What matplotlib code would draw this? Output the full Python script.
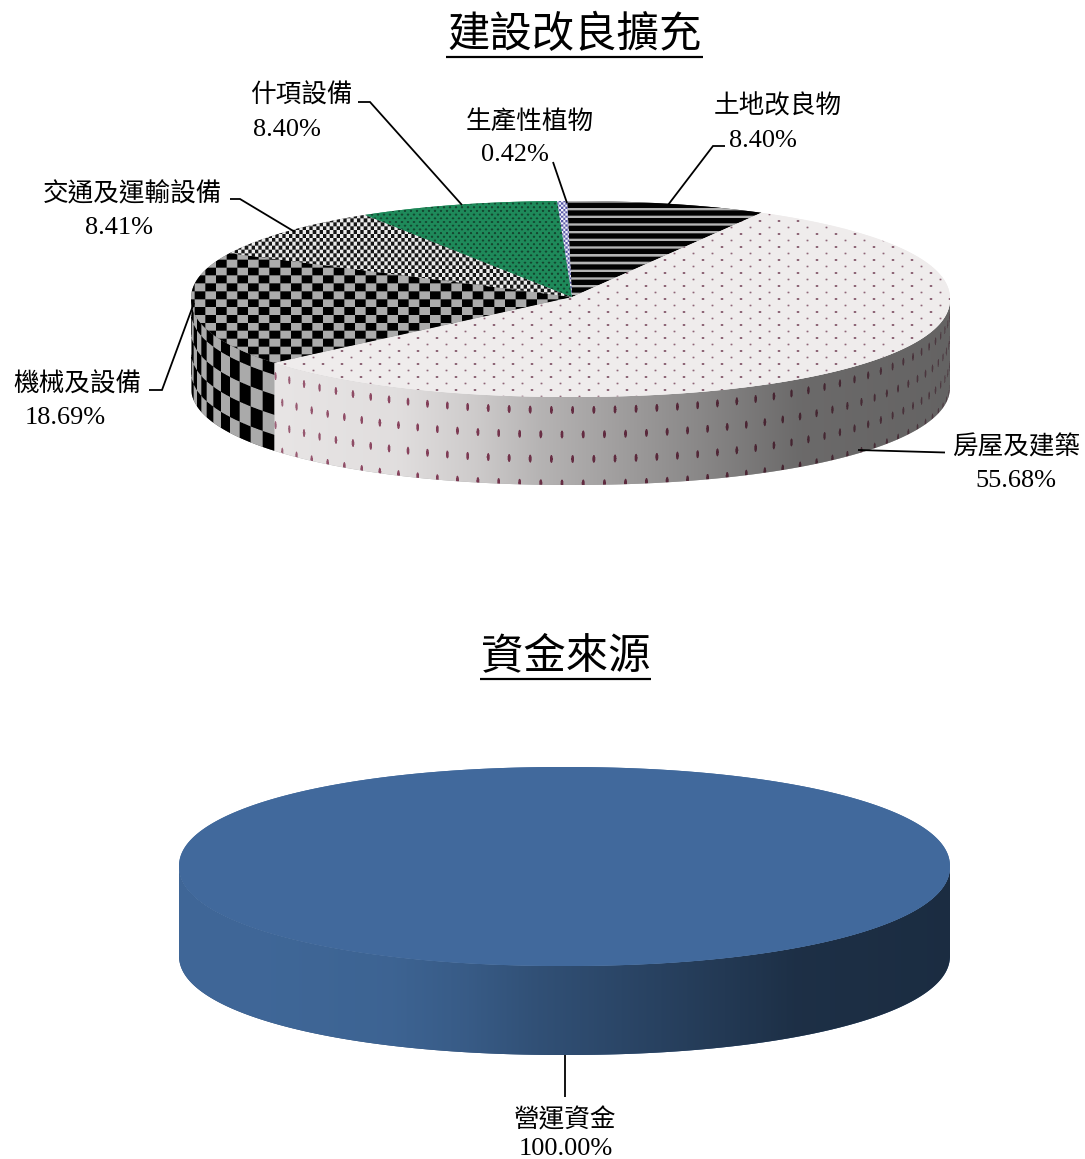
import numpy as np
import matplotlib
matplotlib.use("Agg")
import matplotlib.pyplot as plt
from matplotlib.patches import Polygon

# ---------- data ----------
title_top = "建設改良擴充"
categories_top = ["土地改良物", "房屋及建築", "機械及設備", "交通及運輸設備", "什項設備", "生產性植物"]
shares_top = [8.40, 55.68, 18.69, 8.41, 8.40, 0.42]
title_bottom = "資金來源"
categories_bottom = ["營運資金"]
shares_bottom = [100.00]

# ---------- layout / style ----------
W, H = 1085, 1159
FONT = ["Liberation Serif", "Noto Sans CJK TC"]
PX = 0.72
plt.rcParams["font.family"] = FONT

TOP_GEOM = dict(cx=570.5, cy=299.0, a=379.5, b=98.0, depth=88.0, ax=572.0, ay=297.0, start=-0.5)
BOT_GEOM = dict(cx=564.5, cy=866.5, a=385.5, b=99.5, depth=89.0, ax=564.5, ay=866.5, start=0.0)
NEXP = 2.1
SHADE_U = [-1.0, -0.77, -0.45, -0.25, -0.08, 0.15, 0.35, 0.60, 1.0]
SHADE_V = [0.97, 0.97, 0.94, 0.86, 0.76, 0.66, 0.57, 0.45, 0.42]
DTH = 0.056
SS = 3
NAME_PX = 25.6
PCT_PX = 26.2
TITLE_PX = 42.4
LINE_PX = 1.8

name_pos = [(778, 106), (1016, 447), (77.5, 385), (132, 194), (301, 96), (530, 122)]
pct_pos = [(763, 141), (1016, 481), (65, 418), (119, 228), (287, 130), (515, 155)]
leaders = [
    [(725, 146), (713, 146), (668, 205)],
    [(945, 452.5), (858, 450)],
    [(149, 390), (162, 390), (194, 303)],
    [(230, 199), (240, 199), (295, 232)],
    [(358, 102), (370, 102), (462, 205)],
    [(553, 162), (567, 203)],
]

C = lambda h: np.array(matplotlib.colors.to_rgb(h))


def rgb(shape, col):
    return np.ones(shape + (3,)) * col


def blend(img, col, alpha):
    return img * (1 - alpha[..., None]) + col * alpha[..., None]


def lattice(X, Y, px, py, rx0, ry0, rx1=None, ry1=None):
    row = np.floor(Y / py + 0.5)
    dy = Y - row * py
    off = (row % 2) * px / 2
    dx = ((X - off + px / 2) % px) - px / 2
    odd = row % 2 == 1
    rx = np.where(odd, rx1 if rx1 else rx0, rx0)
    ry = np.where(odd, ry1 if ry1 else ry0, ry0)
    return ((dx / rx) ** 2 + (dy / ry) ** 2) <= 1


def checker(X, Y, w, h, c0, c1):
    m = (np.floor(X / w) + np.floor(Y / h)) % 2 == 0
    return np.where(m[..., None], c1, c0)


def top_stripes(X, Y):
    m = (Y % 7.7) < 2.4
    return np.where(m[..., None], C("#b4b4b4"), C("#020202"))


def top_dots(X, Y):
    img = rgb(X.shape, C("#efecec"))
    m = lattice(X, Y, 19, 6.5, 1.4, 1.1, 1.0, 0.9)
    return blend(img, C("#6e3a50"), m * 0.75)


def top_checker(X, Y):
    return checker(X - 2, Y + 1, 10.7, 7.9, C("#000000"), C("#ababab"))


def top_smallcheck(X, Y):
    return checker(X, Y, 3.4, 3.9, C("#151515"), C("#ececec"))


def top_green(X, Y):
    img = rgb(X.shape, C("#1f8a5a"))
    m = lattice(X, Y, 6.0, 3.7, 1.2, 1.1)
    return blend(img, C("#12402c"), m * 0.9)


def top_blue(X, Y):
    return checker(X, Y, 2.2, 2.2, C("#5a5aa8"), C("#f4f4fb"))


def top_solid_blue(X, Y):
    return rgb(X.shape, C("#416a9c"))


def side_coords(X, Y, g):
    u = np.clip((X - g["cx"]) / g["a"], -1, 1)
    th = np.pi - np.arcsin(u)
    c = np.sqrt(1 - u ** 2)
    v = (1 - np.abs(u) ** NEXP) ** (1 / NEXP)
    hh = Y - (g["cy"] + g["b"] * v)
    return u, th, c, hh


def shade(img, u):
    return img * np.interp(u, SHADE_U, SHADE_V)[..., None]


def side_dots(X, Y, g):
    u, th, c, hh = side_coords(X, Y, g)
    img = rgb(X.shape, C("#efecec"))
    row = np.round((hh - 13) / 24.5)
    dy = hh - 13 - row * 24.5
    col = th / DTH + (row % 2) * 0.5
    dx = (col - np.round(col)) * DTH * g["a"] * c
    m = ((dx / (0.5 + 1.0 * c)) ** 2 + (dy / 4.0) ** 2) <= 1
    img = blend(img, C("#7a1f42"), m * (0.35 + 0.5 * c))
    return shade(img, u)


def side_checker(X, Y, g):
    u, th, c, hh = side_coords(X, Y, g)
    m = (np.floor(th / DTH) + np.floor((hh + 8) / 20.0)) % 2 == 0
    img = np.where(m[..., None], C("#000000"), C("#b0b0b0"))
    return shade(img, u)


def side_plain(col):
    def f(X, Y, g):
        u, th, c, hh = side_coords(X, Y, g)
        return shade(rgb(X.shape, C(col)), u)
    return f


def ept(g, th, dz=0.0):
    th = np.asarray(th)
    s, c = np.sin(th), np.cos(th)
    r = (np.abs(s) ** NEXP + np.abs(c) ** NEXP) ** (-1 / NEXP)
    return np.column_stack([g["cx"] + g["a"] * r * s, g["cy"] - g["b"] * r * c + dz])


def paint(ax, verts, fn, base, z):
    poly = Polygon(verts, closed=True, facecolor=base, edgecolor="none", zorder=z)
    ax.add_patch(poly)
    x0, y0 = np.floor(verts.min(axis=0)).astype(int) - 1
    x1, y1 = np.ceil(verts.max(axis=0)).astype(int) + 1
    xs = (np.arange((x1 - x0) * SS) + 0.5) / SS + x0
    ys = (np.arange((y1 - y0) * SS) + 0.5) / SS + y0
    X, Y = np.meshgrid(xs, ys)
    img = fn(X, Y)
    img = img.reshape(y1 - y0, SS, x1 - x0, SS, 3).mean(axis=(1, 3))
    im = ax.imshow(np.clip(img, 0, 1), extent=(x0, x1, y1, y0), interpolation="nearest",
                   zorder=z + 0.1, aspect="auto")
    im.set_clip_path(poly)


def draw_pie(ax, shares, g, top_fns, top_bases, side_fns, side_bases):
    fr = np.array(shares) / sum(shares)
    edges = np.concatenate([[0], np.cumsum(fr)]) * 2 * np.pi + np.deg2rad(g["start"])
    for i in range(len(fr)):
        t0, t1 = max(edges[i], np.pi / 2), min(edges[i + 1], 3 * np.pi / 2)
        if t1 > t0 and side_fns[i] is not None:
            th = np.linspace(t0, t1, 300)
            verts = np.vstack([ept(g, th), ept(g, th[::-1], g["depth"])])
            paint(ax, verts, lambda X, Y, f=side_fns[i]: f(X, Y, g), side_bases[i], 2)
    for i in range(len(fr)):
        th = np.linspace(edges[i], edges[i + 1], max(int(fr[i] * 900), 8))
        arc = ept(g, th)
        if fr[i] >= 0.999:
            verts = arc
        else:
            verts = np.vstack([[g["ax"], g["ay"]], arc])
        paint(ax, verts, top_fns[i], top_bases[i], 3)


def title(ax, s, y, x0, x1, yline):
    ax.text((x0 + x1) / 2, y, s, fontsize=TITLE_PX * PX, ha="center", va="center", family=FONT, color="#000000")
    ax.plot([x0, x1], [yline, yline], color="#000000", lw=2.2 * PX, solid_capstyle="butt", zorder=5)


fig = plt.figure(figsize=(W / 100, H / 100), dpi=100, facecolor="white")
ax = fig.add_axes([0, 0, 1, 1])

draw_pie(ax, shares_top, TOP_GEOM,
         [top_stripes, top_dots, top_checker, top_smallcheck, top_green, top_blue],
         ["#222222", "#efecec", "#555555", "#7a7a7a", "#1f8a5a", "#a8a8d0"],
         [None, side_dots, side_checker, None, None, None],
         ["#888888", "#a8a8a8", "#555555", "#888888", "#888888", "#888888"])
draw_pie(ax, shares_bottom, BOT_GEOM, [top_solid_blue], ["#416a9c"],
         [side_plain("#416a9c")], ["#30507a"])

title(ax, title_top, 36, 446, 703, 57)
title(ax, title_bottom, 657, 480, 651, 679)

for name, val, (nx, ny), (px, py), pts in zip(categories_top, shares_top, name_pos, pct_pos, leaders):
    ax.text(nx, ny, name, fontsize=NAME_PX * PX, ha="center", va="center", family=FONT, color="#000000")
    ax.text(px, py, f"{val:.2f}%", fontsize=PCT_PX * PX, ha="center", va="center", family=FONT, color="#000000")
    xs, ys = zip(*pts)
    ax.plot(xs, ys, color="#000000", lw=LINE_PX * PX, solid_capstyle="butt", solid_joinstyle="miter", zorder=5)

ax.text(565.5, 1120, categories_bottom[0], fontsize=NAME_PX * PX, ha="center", va="center", family=FONT, color="#000000")
ax.text(565.5, 1149, f"{shares_bottom[0]:.2f}%", fontsize=PCT_PX * PX, ha="center", va="center", family=FONT, color="#000000")
ax.plot([565, 565], [1055, 1097], color="#000000", lw=LINE_PX * PX, solid_capstyle="butt", zorder=5)

ax.set_xlim(0, W)
ax.set_ylim(H, 0)
ax.axis("off")
fig.savefig("out.png", dpi=100, facecolor="white")
